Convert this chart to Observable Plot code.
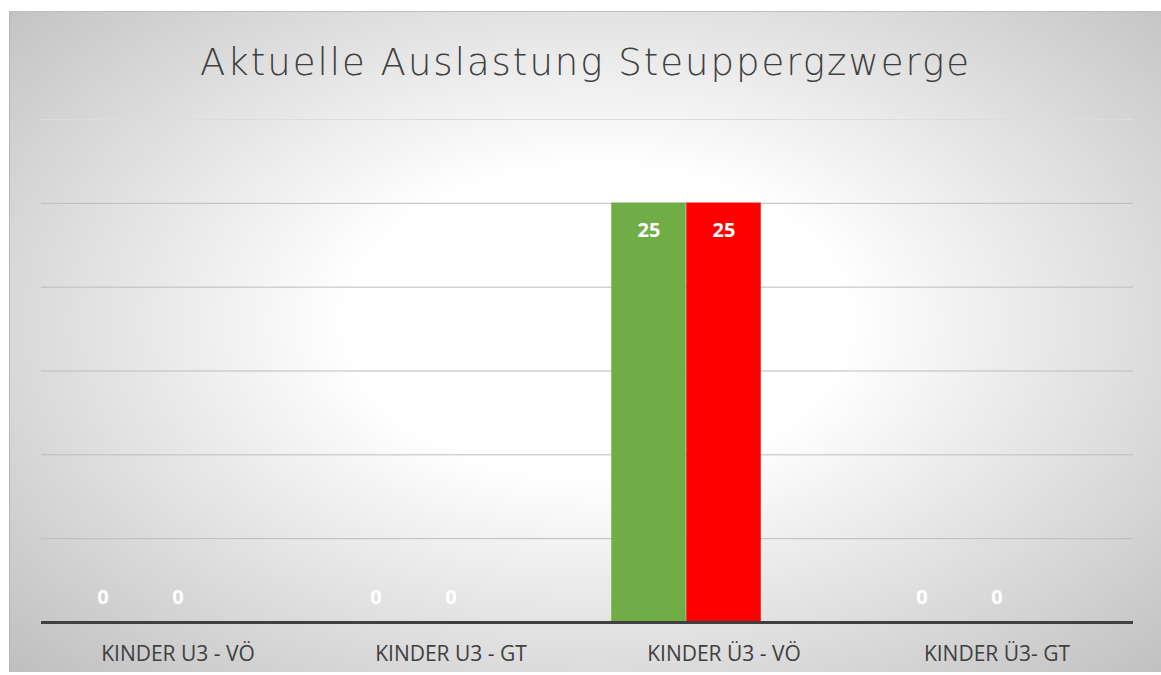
<!DOCTYPE html>
<html>
<head>
<meta charset="utf-8">
<script src="https://cdn.jsdelivr.net/npm/d3@7"></script>
<script src="https://cdn.jsdelivr.net/npm/@observablehq/plot@0.6"></script>
<style>
  html, body { margin: 0; padding: 0; background: #ffffff; }
  #frame {
    position: absolute; left: 9px; top: 11px; width: 1152px; height: 661px;
    background: radial-gradient(ellipse 72% 78% at 51% 47%, #ffffff 0%, #ffffff 30%, #bdbdbd 100%);
    border-left: 1px solid #b5b5b5; border-top: 1px solid #c0c0c0;
    box-sizing: border-box; overflow: hidden;
  }
  #title {
    height: 99px; display: flex; align-items: center; justify-content: center;
    font-family: "DejaVu Sans", sans-serif; font-weight: 200; font-size: 37px;
    color: #404040; letter-spacing: 2px; padding-top: 2px; box-sizing: border-box;
  }
  #chart svg { display: block; background: transparent; }
  #chart svg g[aria-label="fx-axis tick label"] { font-size: 21px; }
</style>
</head>
<body>
<div id="frame">
  <div id="title">Aktuelle Auslastung Steuppergzwerge</div>
  <div id="chart"></div>
</div>
<script>
const categories = ["KINDER U3 - VÖ", "KINDER U3 - GT", "KINDER Ü3 - VÖ", "KINDER Ü3- GT"];
const series = ["Plätze", "Belegt", "Frei"];
const seriesColors = ["#70AD47", "#FF0000", "#A5A5A5"];
const valuesPlaetze = [0, 0, 25, 0];
const valuesBelegt = [0, 0, 25, 0];
const valuesFrei = [null, null, null, null];
const gridTicks = [5, 10, 15, 20, 25, 30];

const allValues = [valuesPlaetze, valuesBelegt, valuesFrei];
const data = [];
categories.forEach((c, i) => {
  series.forEach((s, j) => {
    const v = allValues[j][i];
    if (v != null) data.push({category: c, series: s, value: v});
  });
});

const chart = Plot.plot({
  width: 1151,
  height: 561,
  marginTop: 8,
  marginBottom: 50,
  marginLeft: 30,
  marginRight: 28,
  style: {background: "transparent", fontFamily: "'Open Sans', sans-serif", color: "#404040"},
  fx: {domain: categories, padding: 0, axis: "bottom", label: null, tickSize: 0, tickPadding: 24},
  x: {domain: series, paddingInner: 0, paddingOuter: 0.32, axis: null},
  y: {domain: [0, 30], axis: null},
  color: {domain: series, range: seriesColors},
  marks: [
    Plot.ruleY(gridTicks, {stroke: d => d === 30 ? "#dcdcdc" : "#bcbcbc", strokeWidth: 1}),
    Plot.barY(data, {fx: "category", x: "series", y: "value", fill: "series", stroke: "series", strokeOpacity: 0.5, strokeWidth: 1, insetLeft: 0.5, insetRight: 0.5}),
    Plot.ruleY([0], {stroke: "#404040", strokeWidth: 3}),
    Plot.text(data.filter(d => d.value > 0), {fx: "category", x: "series", y: "value", text: "value", dy: 27, fill: "white", fontWeight: "bold", fontSize: 20}),
    Plot.text(data.filter(d => d.value === 0), {fx: "category", x: "series", y: "value", text: "value", dy: -25, fill: "white", fontWeight: "bold", fontSize: 20})
  ]
});
document.getElementById("chart").appendChild(chart);
</script>
</body>
</html>
